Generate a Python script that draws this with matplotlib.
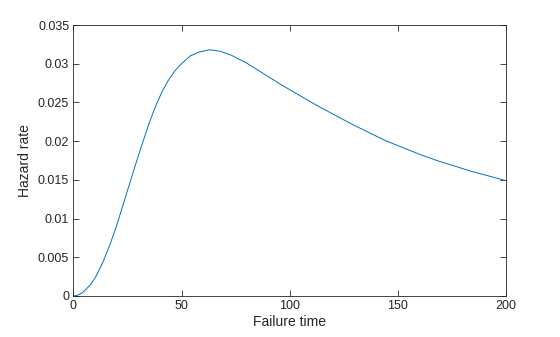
import matplotlib
matplotlib.use("Agg")
import matplotlib.pyplot as plt

# valores (tiempo de fallo, tasa de riesgo)
tiempo = [0, 2, 4, 6, 8, 10, 12, 14, 17, 20, 23, 26, 29, 32, 35, 38, 41, 44,
          47, 50, 54, 58, 63, 68, 73, 80, 88, 96, 104, 112, 120, 128, 136,
          144, 152, 160, 168, 176, 184, 192, 200]
riesgo = [0, 0.0001, 0.0004, 0.0009, 0.0015, 0.0023, 0.0034, 0.0046, 0.0067,
          0.0091, 0.0118, 0.0145, 0.0172, 0.0198, 0.0223, 0.0245, 0.0264,
          0.0279, 0.0291, 0.0300, 0.0310, 0.0315, 0.0318, 0.0316, 0.0311,
          0.0301, 0.0287, 0.0273, 0.0260, 0.0247, 0.0235, 0.0223, 0.0212,
          0.0201, 0.0192, 0.0183, 0.0175, 0.0168, 0.0161, 0.0155, 0.0149]

xticks = [0, 50, 100, 150, 200]
yticks = [0, 0.005, 0.01, 0.015, 0.02, 0.025, 0.03, 0.035]

plt.rcParams['font.family'] = ['Liberation Sans', 'DejaVu Sans']
gris = "#262626"

fig = plt.figure(figsize=(5.6, 3.37), dpi=100)
ax = fig.add_axes([0.131, 0.1217, 0.7726, 0.8041])
ax.plot(tiempo, riesgo, color="#0072BD", linewidth=0.7)

ax.set_xlim(0, 200)
ax.set_ylim(0, 0.035)
ax.set_xticks(xticks)
ax.set_xticklabels([f"{t:g}" for t in xticks])
ax.set_yticks(yticks)
ax.set_yticklabels([f"{t:g}" for t in yticks])
ax.tick_params(direction="in", length=4, width=0.6, colors=gris,
               labelsize=9, top=True, right=True, pad=3)
for s in ax.spines.values():
    s.set_color(gris)
    s.set_linewidth(0.6)

ax.set_xlabel("Failure time", fontsize=10, color=gris, labelpad=2)
ax.set_ylabel("Hazard rate", fontsize=10, color=gris, labelpad=4)

fig.savefig("out.png", dpi=100)
